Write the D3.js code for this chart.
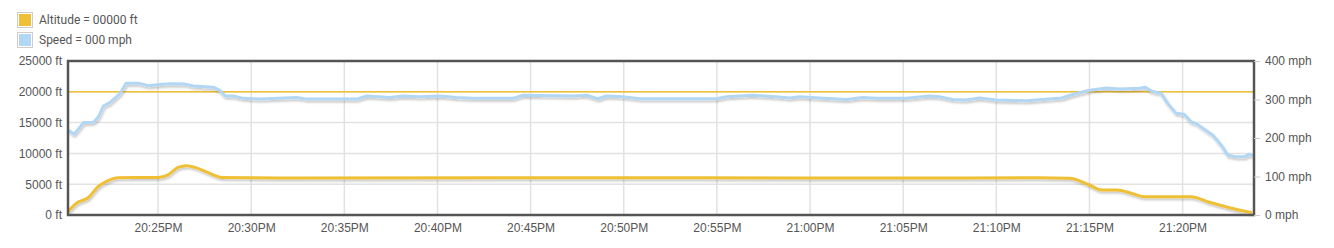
<!DOCTYPE html>
<html>
<head>
<meta charset="utf-8">
<script src="https://cdn.jsdelivr.net/npm/d3@7"></script>
<style>
  body { margin: 0; background: #fff; }
  svg { display: block; font-family: Roboto, "Noto Sans", sans-serif; }
</style>
</head>
<body>
<div id="chart"></div>
<script>
// altitude track (ft)
var altTimes = ["20:20:10","20:20:38","20:21:15","20:21:47","20:22:19","20:22:51","20:25:00","20:25:32","20:26:04","20:26:32","20:26:59","20:27:41","20:28:25","20:32:37","20:43:21","20:54:05","21:04:48","21:12:19","21:13:56","21:15:00","21:15:38","21:16:30","21:17:09","21:17:57","21:20:27","21:21:26","21:22:31","21:23:44"];
var altValues = [540,1950,2800,4600,5570,6050,6100,6500,7740,8000,7740,6870,6100,6020,6050,6030,6000,6050,5950,4870,4060,4060,3620,2970,2970,2060,1190,380];

// speed track (mph)
var spdTimes = ["20:20:10","20:20:30","20:21:00","20:21:32","20:21:48","20:22:04","20:22:25","20:22:58","20:23:17","20:23:57","20:24:29","20:25:06","20:25:39","20:26:27","20:26:54","20:27:58","20:28:20","20:28:36","20:29:02","20:29:35","20:30:28","20:32:26","20:32:59","20:35:40","20:36:12","20:37:27","20:38:09","20:39:03","20:40:08","20:41:01","20:41:54","20:44:03","20:44:35","20:47:16","20:48:00","20:48:36","20:49:04","20:49:57","20:50:52","20:54:58","20:55:31","20:56:56","20:58:11","20:58:54","20:59:26","21:00:31","21:01:57","21:02:50","21:03:34","21:05:10","21:06:25","21:06:57","21:07:40","21:08:23","21:09:06","21:09:59","21:11:36","21:13:30","21:14:06","21:15:00","21:15:54","21:16:37","21:17:41","21:18:00","21:18:19","21:18:51","21:19:12","21:19:39","21:20:05","21:20:27","21:20:43","21:21:37","21:22:04","21:22:25","21:22:52","21:23:19","21:23:35","21:23:46"];
var spdValues = [221,210,240,241,255,283,292,316,342,342,336,339,341,340,335,332,323,309,309,303,301,305,301,301,309,305,309,307,309,305,303,303,311,309,311,302,309,307,302,302,307,311,307,304,307,304,300,305,303,303,309,307,300,299,304,299,297,304,313,324,330,327,329,332,322,316,290,264,262,242,238,208,182,156,151,151,158,153];

var timeDomain = ["20:20:10", "21:23:50"];
var timeTicks = ["20:25:00","20:30:00","20:35:00","20:40:00","20:45:00","20:50:00","20:55:00","21:00:00","21:05:00","21:10:00","21:15:00","21:20:00"];
var altTicks = [0, 5000, 10000, 15000, 20000, 25000];
var spdTicks = [0, 100, 200, 300, 400];
var refAltitude = 20000;
var legendLabels = ["Altitude = 00000 ft", "Speed = 000 mph"];

var colors = { alt: "#efbf35", spd: "#b2d7f4" };

var parseT = d3.timeParse("%H:%M:%S");
var W = 1334, H = 248;
var margin = { left: 68, top: 61, right: 80, bottom: 33 };
var innerW = W - margin.left - margin.right;
var innerH = H - margin.top - margin.bottom;

var x = d3.scaleTime().domain(timeDomain.map(parseT)).range([0, innerW]);
var yAlt = d3.scaleLinear().domain([0, 25000]).range([innerH, 0]);
var ySpd = d3.scaleLinear().domain([0, 400]).range([innerH, 0]);

var svg = d3.select("#chart").append("svg").attr("width", W).attr("height", H);

var defs = svg.append("defs");
var f = defs.append("filter").attr("id", "shadow").attr("x", "-5%").attr("y", "-20%").attr("width", "110%").attr("height", "160%");
f.append("feDropShadow").attr("dx", 1).attr("dy", 2).attr("stdDeviation", 1.2)
  .attr("flood-color", "#000").attr("flood-opacity", 0.22);

// legend
var legend = svg.append("g").attr("transform", "translate(17,12)");
legendLabels.forEach(function (lab, i) {
  var g = legend.append("g").attr("transform", "translate(0," + (i * 20) + ")");
  g.append("rect").attr("x", 0.5).attr("y", 0.5).attr("width", 15).attr("height", 15)
    .attr("fill", "#fff").attr("stroke", "#ccc");
  g.append("rect").attr("x", 2).attr("y", 2).attr("width", 12).attr("height", 12)
    .attr("fill", i === 0 ? colors.alt : colors.spd);
  g.append("text").attr("x", 22).attr("y", 8).attr("dy", "0.35em")
    .style("font-size", "12px").attr("fill", "#555").text(lab);
});

var g = svg.append("g").attr("transform", "translate(" + margin.left + "," + margin.top + ")");

// grid
g.append("g").selectAll("line").data(altTicks.slice(1, -1)).enter().append("line")
  .attr("x1", 0).attr("x2", innerW)
  .attr("y1", function (d) { return yAlt(d); }).attr("y2", function (d) { return yAlt(d); })
  .attr("stroke", "#e2e2e2").attr("stroke-width", 1.5);
g.append("g").selectAll("line").data(timeTicks.map(parseT)).enter().append("line")
  .attr("x1", function (d) { return x(d); }).attr("x2", function (d) { return x(d); })
  .attr("y1", 0).attr("y2", innerH)
  .attr("stroke", "#e2e2e2").attr("stroke-width", 1.5);

// reference line
g.append("line").attr("x1", 0).attr("x2", innerW)
  .attr("y1", yAlt(refAltitude)).attr("y2", yAlt(refAltitude))
  .attr("stroke", colors.alt).attr("stroke-width", 1.5);

// series
var altData = altTimes.map(function (t, i) { return { t: parseT(t), v: altValues[i] }; });
var spdData = spdTimes.map(function (t, i) { return { t: parseT(t), v: spdValues[i] }; });

var altLine = d3.line().x(function (d) { return x(d.t); }).y(function (d) { return yAlt(d.v); }).curve(d3.curveMonotoneX);
var spdLine = d3.line().x(function (d) { return x(d.t); }).y(function (d) { return ySpd(d.v); }).curve(d3.curveLinear);

g.append("path").attr("d", spdLine(spdData)).attr("fill", "none")
  .attr("stroke", colors.spd).attr("stroke-width", 3).attr("stroke-linejoin", "round")
  .attr("filter", "url(#shadow)");
g.append("path").attr("d", altLine(altData)).attr("fill", "none")
  .attr("stroke", colors.alt).attr("stroke-width", 3).attr("stroke-linejoin", "round")
  .attr("filter", "url(#shadow)");

// frame
g.append("rect").attr("x", 0).attr("y", 0).attr("width", innerW).attr("height", innerH)
  .attr("fill", "none").attr("stroke", "#555").attr("stroke-width", 2.5);

// axes
var xAxis = g.append("g").attr("transform", "translate(0," + innerH + ")")
  .call(d3.axisBottom(x).tickValues(timeTicks.map(parseT)).tickFormat(d3.timeFormat("%H:%MPM")).tickSize(0).tickPadding(8));
var yAxisL = g.append("g")
  .call(d3.axisLeft(yAlt).tickValues(altTicks).tickFormat(function (d) { return d + " ft"; }).tickSize(0).tickPadding(6));
var yAxisR = g.append("g").attr("transform", "translate(" + innerW + ",0)")
  .call(d3.axisRight(ySpd).tickValues(spdTicks).tickFormat(function (d) { return d + " mph"; }).tickSize(6).tickPadding(5));

[xAxis, yAxisL, yAxisR].forEach(function (a) {
  a.select(".domain").remove();
  a.selectAll("text").attr("fill", "#555").style("font-size", "12px");
  a.selectAll("line").attr("stroke", "#ccc");
});
</script>
</body>
</html>
